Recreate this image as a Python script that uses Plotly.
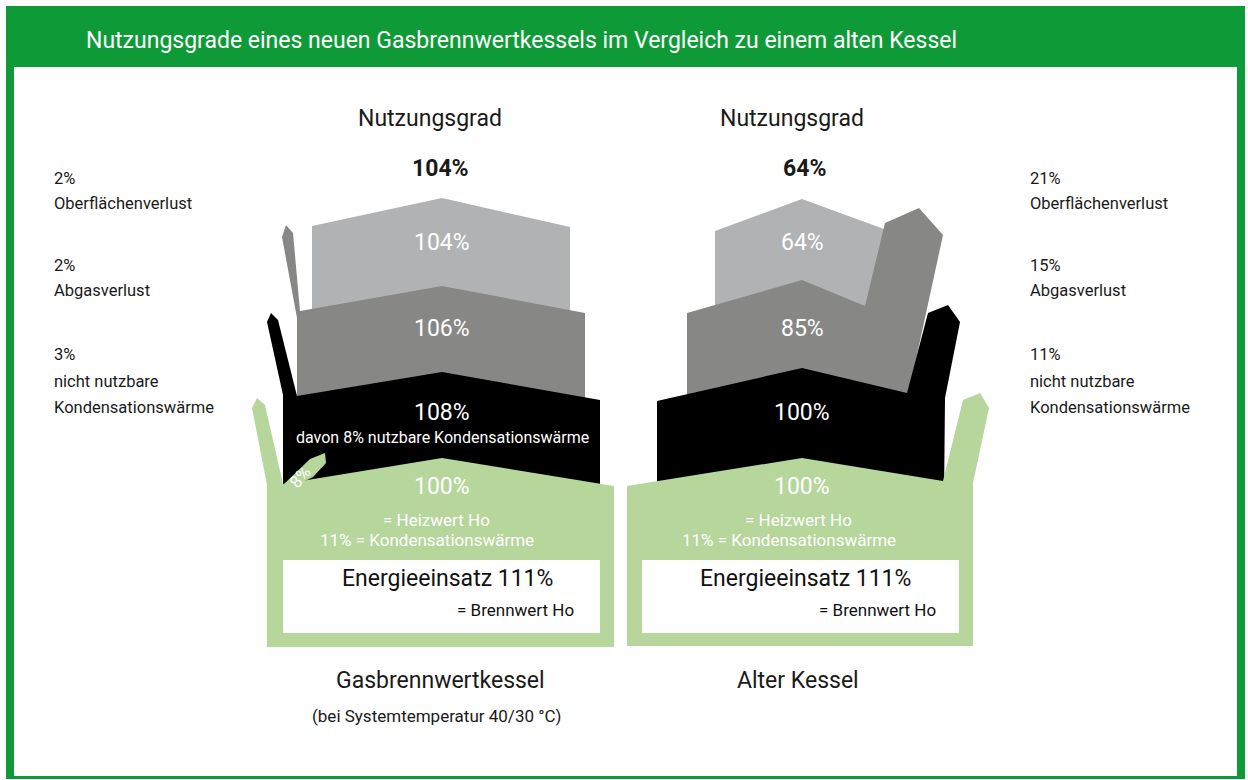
import plotly.graph_objects as go

# ---------------- data ----------------
boilers = ["Gasbrennwertkessel", "Alter Kessel"]
boiler_notes = ["(bei Systemtemperatur 40/30 °C)", ""]
nutzungsgrad = [104, 64]          # final efficiency (light gray)
nach_oberflaeche = [106, 85]      # before surface loss (mid gray)
nach_abgas = [108, 100]           # before flue gas loss (black)
heizwert = [100, 100]             # green, = Heizwert
energieeinsatz = [111, 111]       # = Brennwert
kondensationswaerme = [11, 11]
nutzbare_kond = [8, 0]
oberflaechenverlust = [2, 21]
abgasverlust = [2, 15]
nicht_nutzbare_kond = [3, 11]

title = "Nutzungsgrade eines neuen Gasbrennwertkessels im Vergleich zu einem alten Kessel"

# ---------------- styling / geometry ----------------
W, H = 1248, 780
FONT = "Roboto, Liberation Sans, Arial, sans-serif"
C_LIGHT = "#b1b2b4"
C_MID = "#878786"
C_BLACK = "#000000"
C_GREEN = "#b6d69b"
C_HEAD = "#0e9b37"

# polygon outlines of the two illustrations (pixel layout)
shapes_left = {
    C_LIGHT: [(312, 226), (442, 198), (570, 227), (570, 330), (312, 330)],
    C_MID: [(282, 237), (286, 225), (293, 233), (300, 311), (442, 286), (585, 313),
            (585, 420), (297, 420), (297, 318)],
    C_BLACK: [(267, 322), (271, 313), (278, 320), (297, 396), (442, 372), (600, 400),
              (600, 500), (283, 500), (283, 395)],
    C_GREEN: [(252, 408), (257, 398), (265, 405), (283, 484), (442, 458), (614, 486),
              (614, 647), (267, 647), (267, 485)],
}
shapes_right = {
    C_LIGHT: [(715, 231), (802, 199), (884, 229), (884, 330), (715, 330)],
    C_MID: [(687, 313), (802, 280), (865, 306), (885, 223), (919, 208), (943, 235),
            (905, 410), (687, 410)],
    C_BLACK: [(657, 401), (802, 368), (907, 393), (928, 313), (948, 305), (960, 322),
              (945, 398), (944, 500), (657, 500)],
    C_GREEN: [(627, 486), (802, 458), (943, 481), (963, 400), (980, 393), (989, 408),
              (973, 483), (973, 646), (627, 646)],
}
arrow_8 = [(283, 485), (310, 459), (325, 453), (326, 463), (313, 477), (305, 481)]
boxes = [(283, 560, 600, 633), (642, 560, 959, 633)]

fig = go.Figure()


def poly(pts, color):
    xs = [p[0] for p in pts] + [pts[0][0]]
    ys = [p[1] for p in pts] + [pts[0][1]]
    fig.add_trace(go.Scatter(x=xs, y=ys, fill="toself", fillcolor=color, mode="lines",
                             line=dict(width=0, color=color), hoverinfo="skip",
                             showlegend=False))


for shp in (shapes_left, shapes_right):
    for col in (C_LIGHT, C_MID, C_BLACK, C_GREEN):
        poly(shp[col], col)
poly(arrow_8, C_GREEN)
for (x0, y0, x1, y1) in boxes:
    poly([(x0, y0), (x1, y0), (x1, y1), (x0, y1)], "#ffffff")

ann = []


def txt(x, y, s, size, color="#1a1a1a", anchor="center", bold=False, angle=0):
    if bold:
        s = "<b>" + s + "</b>"
    ann.append(dict(x=x, y=y, xref="x", yref="y", text=s, showarrow=False,
                    xanchor=anchor, yanchor="middle", textangle=angle,
                    font=dict(family=FONT, size=size, color=color)))


txt(84, 40, title, 23, "#ffffff", anchor="left")

centers = [442, 802]
head_x = [430, 792]
pct_x = [440, 804]
bottom_x = [440, 798]
heiz_x = [436, 798]
kond_x = [427, 789]
energ_x = [447, 805]
brenn_x = [515, 877]
BIG = 23
SMALL = 17
for i in range(2):
    cx = centers[i]
    txt(head_x[i], 118, "Nutzungsgrad", BIG)
    txt(pct_x[i], 168, f"{nutzungsgrad[i]}%", BIG, bold=True)
    txt(cx, 242, f"{nutzungsgrad[i]}%", BIG, "#ffffff")
    txt(cx, 328, f"{nach_oberflaeche[i]}%", BIG, "#ffffff")
    txt(cx, 412, f"{nach_abgas[i]}%", BIG, "#ffffff")
    txt(cx, 486, f"{heizwert[i]}%", BIG, "#ffffff")
    txt(heiz_x[i], 520, "= Heizwert Ho", SMALL, "#ffffff")
    txt(kond_x[i], 540, f"{kondensationswaerme[i]}% = Kondensationswärme", SMALL, "#ffffff")
    txt(energ_x[i], 578, f"Energieeinsatz {energieeinsatz[i]}%", BIG, "#111111")
    txt(brenn_x[i], 610, "= Brennwert Ho", SMALL, "#111111")
    txt(bottom_x[i], 680, boilers[i], BIG)
    if boiler_notes[i]:
        txt(436, 716, boiler_notes[i], SMALL)
    if nutzbare_kond[i]:
        txt(cx, 437, f"davon {nutzbare_kond[i]}% nutzbare Kondensationswärme", 16, "#ffffff")
        txt(300, 477, f"{nutzbare_kond[i]}%", 17, "#ffffff", angle=-50)

side_x = [52, 1028]
for i in range(2):
    x = side_x[i]
    txt(x, 178, f"{oberflaechenverlust[i]}%", 16.5, anchor="left")
    txt(x, 203, "Oberflächenverlust", 16.5, anchor="left")
    txt(x, 265, f"{abgasverlust[i]}%", 16.5, anchor="left")
    txt(x, 290, "Abgasverlust", 16.5, anchor="left")
    txt(x, 354, f"{nicht_nutzbare_kond[i]}%", 16.5, anchor="left")
    txt(x, 381, "nicht nutzbare", 16.5, anchor="left")
    txt(x, 407, "Kondensationswärme", 16.5, anchor="left")

frame = [
    dict(type="rect", x0=6, y0=6, x1=1245, y1=67),
    dict(type="rect", x0=6, y0=67, x1=14, y1=779),
    dict(type="rect", x0=1237, y0=67, x1=1245, y1=779),
    dict(type="rect", x0=6, y0=776, x1=1245, y1=779),
]
shapes = []
for f in frame:
    f.update(xref="x", yref="y", fillcolor=C_HEAD, line=dict(width=0), layer="below")
    shapes.append(f)

fig.update_layout(
    width=W, height=H, margin=dict(l=0, r=0, t=0, b=0),
    paper_bgcolor="#ffffff", plot_bgcolor="#ffffff",
    xaxis=dict(range=[0, W], visible=False, fixedrange=True),
    yaxis=dict(range=[H, 0], visible=False, fixedrange=True),
    annotations=ann, shapes=shapes, showlegend=False,
)
fig.write_html("out.html",
               config={"displayModeBar": False, "staticPlot": True},
               post_script="document.body.style.margin='0px';"
                           "document.body.style.overflow='hidden';")
